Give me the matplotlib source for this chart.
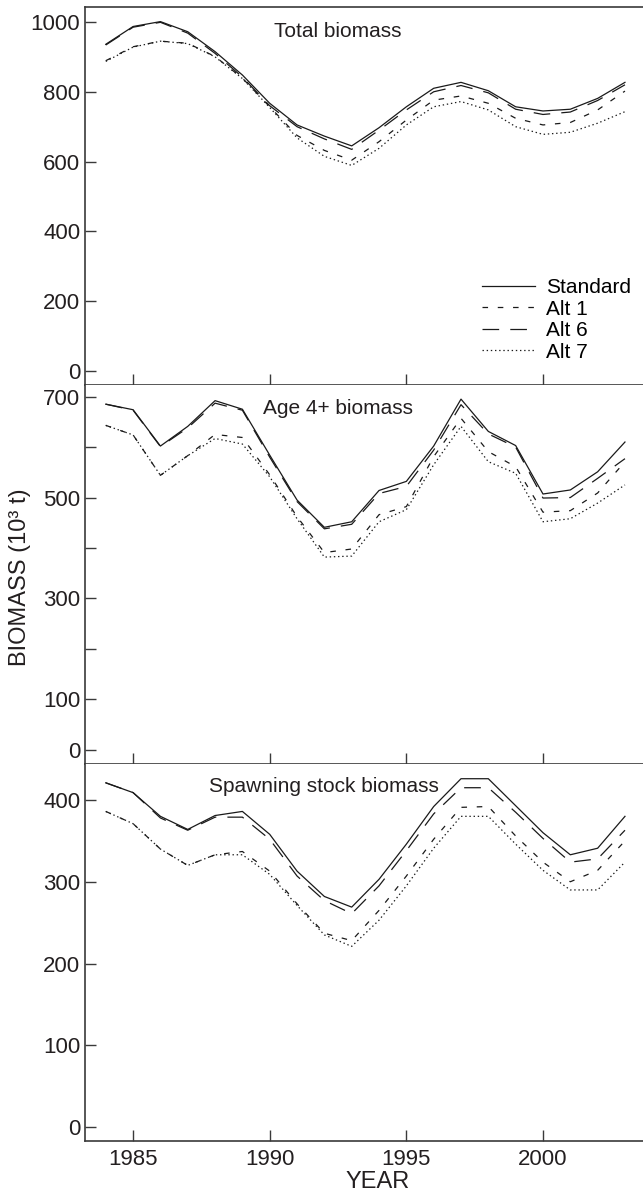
import numpy as np
import matplotlib
matplotlib.use('Agg')
import matplotlib.pyplot as plt

plt.rcParams['font.family'] = ['Liberation Sans', 'DejaVu Sans']
plt.rcParams['lines.scale_dashes'] = False

years = np.arange(1984, 2004)

# Total biomass (10^3 t)
total_std = [936, 987, 1001, 972, 915, 848, 767, 705, 673, 645, 697, 757, 810, 827, 803, 757, 745, 750, 781, 827]
total_alt6 = [934, 985, 999, 968, 910, 842, 760, 700, 665, 635, 690, 748, 800, 818, 797, 750, 735, 742, 775, 820]
total_alt1 = [889, 929, 945, 939, 901, 839, 757, 675, 632, 604, 657, 719, 776, 788, 767, 724, 705, 712, 748, 802]
total_alt7 = [887, 928, 945, 938, 900, 838, 755, 668, 615, 589, 638, 705, 757, 772, 748, 700, 678, 684, 710, 743]

# Age 4+ biomass
age4_std = [685, 674, 602, 641, 692, 675, 584, 495, 441, 452, 514, 532, 602, 695, 631, 603, 507, 515, 551, 610]
age4_alt6 = [685, 673, 601, 638, 687, 673, 580, 492, 438, 447, 508, 522, 594, 684, 626, 600, 499, 500, 538, 577]
age4_alt1 = [643, 624, 544, 583, 625, 619, 545, 462, 391, 398, 466, 482, 581, 657, 591, 561, 471, 474, 509, 571]
age4_alt7 = [643, 624, 544, 583, 617, 606, 541, 458, 382, 384, 452, 476, 565, 641, 571, 548, 452, 458, 489, 525]

# Spawning stock biomass
ssb_std = [421, 409, 380, 364, 381, 386, 358, 313, 282, 269, 303, 346, 392, 426, 426, 393, 360, 333, 341, 380]
ssb_alt6 = [421, 409, 378, 363, 379, 379, 352, 307, 277, 261, 295, 338, 383, 415, 415, 385, 353, 324, 328, 363]
ssb_alt1 = [386, 371, 340, 320, 333, 337, 313, 273, 237, 228, 265, 307, 352, 391, 392, 356, 324, 300, 314, 350]
ssb_alt7 = [386, 371, 340, 320, 333, 333, 309, 271, 235, 221, 253, 295, 341, 380, 380, 346, 314, 290, 290, 324]

labels = ['Standard', 'Alt 1', 'Alt 6', 'Alt 7']
styles = ['-', (0, (4, 7)), (0, (12, 8)), (0, (1, 2))]

panels = [
    ('Total biomass', [total_std, total_alt1, total_alt6, total_alt7],
     (-40, 1042), np.arange(0, 1001, 200), None, (0.453, 0.937)),
    ('Age 4+ biomass', [age4_std, age4_alt1, age4_alt6, age4_alt7],
     (-28, 723), np.arange(0, 701, 100), [0, 100, 300, 500, 700], (0.453, 0.937)),
    ('Spawning stock biomass', [ssb_std, ssb_alt1, ssb_alt6, ssb_alt7],
     (-17, 444), np.arange(0, 401, 100), None, (0.428, 0.94)),
]

W, H = 643, 1193
fig = plt.figure(figsize=(W / 100, H / 100), dpi=100)
edges = [7.3, 385, 764, 1141]
spine_col = '#3a3a3a'
line_col = '#1a1a1a'

axes = []
for i, (title, series, ylim, yt, ylab, tpos) in enumerate(panels):
    top, bot = edges[i], edges[i + 1]
    ax = fig.add_axes([85 / W, 1 - bot / H, 1 - 85 / W, (bot - top) / H])
    for vals, ls, lab in zip(series, styles, labels):
        ax.plot(years, vals, color=line_col, lw=0.9, linestyle=ls, label=lab)
    ax.set_xlim(1983.24, 2003.66)
    ax.set_ylim(*ylim)
    ax.set_yticks(yt)
    if ylab is not None:
        ax.set_yticklabels([str(v) if v in ylab else '' for v in yt])
    ax.set_xticks([1985, 1990, 1995, 2000])
    ax.tick_params(direction='in', length=8, width=1.0, colors=spine_col,
                   labelcolor='#231f20', labelsize=16)
    ax.tick_params(axis='y', pad=3.5)
    ax.tick_params(axis='x', pad=6)
    if i < 2:
        ax.tick_params(axis='x', labelbottom=False)
    ax.spines['right'].set_visible(False)
    if i > 0:
        ax.spines['top'].set_visible(False)
    for s in ['left', 'top', 'bottom']:
        ax.spines[s].set_color(spine_col)
        ax.spines[s].set_linewidth(1.2)
    ax.text(tpos[0], tpos[1], title, transform=ax.transAxes, ha='center',
            va='center', fontsize=15, color='#231f20')
    axes.append(ax)

axes[0].legend(loc='lower left', bbox_to_anchor=(0.712, 0.062), frameon=False,
               fontsize=15, handlelength=2.55, handletextpad=0.5,
               labelspacing=0.12, borderpad=0, borderaxespad=0)

fig.text(20 / W, 1 - 577 / H, 'BIOMASS (10³ t)', rotation=90, ha='center',
         va='center', fontsize=17, color='#231f20')
fig.text(378 / W, 1 - 1188 / H, 'YEAR', ha='center', va='baseline',
         fontsize=17, color='#231f20')

plt.savefig('out.png', dpi=100)
